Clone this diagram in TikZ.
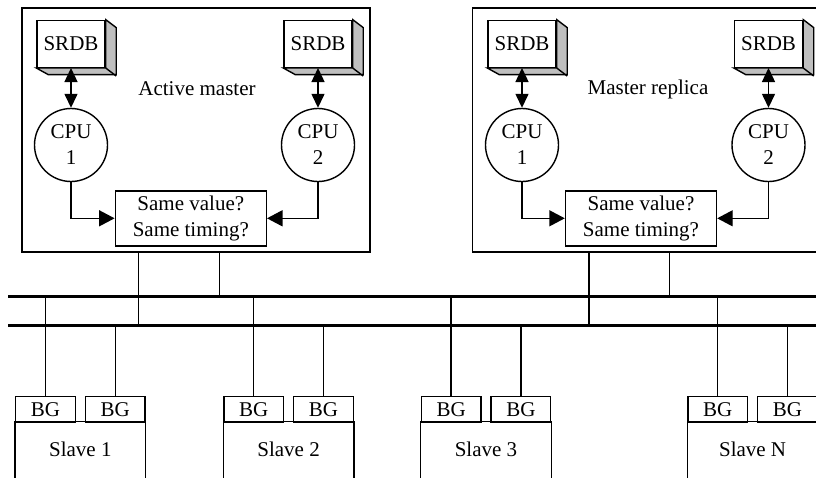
\documentclass[tikz,border=0pt]{standalone}
\usepackage{fontspec}
\setmainfont{Liberation Serif}
\usetikzlibrary{arrows.meta,calc}
\newcommand\srdbext[1]{%
  \filldraw[fill=black!25] (#1.north east) -- ++(10.5,8) -- ++(0,47) -- ++(-68,0) -- (#1.south west) -- (#1.south east) -- cycle;
  \draw (#1.south east) -- ++(10.5,8);
}
\begin{document}
\begin{tikzpicture}[x=1pt,y=-1pt, font=\fontsize{21}{26}\selectfont, line width=1.4pt,
  every node/.style={inner sep=0pt},
  box/.style={draw, rectangle},
  srdbbox/.style={draw, fill=white, minimum width=68pt, minimum height=47pt},
  cpubox/.style={draw, circle, minimum size=73pt, align=center},
  cmpbox/.style={draw, minimum width=151pt, minimum height=55pt, align=center},
  bgbox/.style={draw, minimum width=59.7pt, minimum height=25.3pt},
  slavebox/.style={minimum width=129.3pt, minimum height=55pt},
  tip/.style={-{Triangle[length=15.5pt,width=16pt]}},
  dtip/.style={{Triangle[length=14pt,width=13pt]}-{Triangle[length=14pt,width=13pt]}},
  bus/.style={line width=3pt}]
\clip (0,0) rectangle (816,477);

% master boxes
\node[box, minimum width=348pt, minimum height=244pt] (amaster) at (196,130) {};
\node[box, minimum width=357.3pt, minimum height=244pt] (rmaster) at (651.35,130) {};
\node (alabel) at (197,89) {Active master};
\node (rlabel) at (648,89) {Master replica};

% SRDBs
\node[srdbbox] (as1) at (71,43.8) {SRDB}; \srdbext{as1}
\node[srdbbox] (as2) at (318,43.8) {SRDB}; \srdbext{as2}
\node[srdbbox] (rs1) at (522,43.8) {SRDB}; \srdbext{rs1}
\node[srdbbox] (rs2) at (768.5,43.8) {SRDB}; \srdbext{rs2}

% CPUs
\node[cpubox] (ac1) at (71,145) {CPU\\1};
\node[cpubox] (ac2) at (318,145) {CPU\\2};
\node[cpubox] (rc1) at (522,145) {CPU\\1};
\node[cpubox] (rc2) at (768.5,145) {CPU\\2};

% comparators
\node[cmpbox] (acmp) at (190.8,218.3) {Same value?\\Same timing?};
\node[cmpbox] (rcmp) at (641,218.3) {Same value?\\Same timing?};

% arrows
\draw[dtip] (as1.south) -- (ac1.north);
\draw[dtip] (as2.south) -- (ac2.north);
\draw[dtip] (rs1.south) -- (rc1.north);
\draw[dtip] (rs2.south) -- (rc2.north);
\draw[tip] (ac1.south) |- (acmp.west);
\draw[tip] (ac2.south) |- (acmp.east);
\draw[tip] (rc1.south) |- (rcmp.west);
\draw[tip] (rc2.south) |- (rcmp.east);

% buses
\coordinate (busAL) at (8.3,296); \coordinate (busAR) at (820,296);
\coordinate (busBL) at (8.3,325); \coordinate (busBR) at (820,325);
\draw[bus] (busAL) -- (busAR);
\draw[bus] (busBL) -- (busBR);

% master drops
\coordinate (am1) at (138.3,252); \coordinate (am2) at (219.3,252);
\coordinate (rm1) at (589,252); \coordinate (rm2) at (669.3,252);
\draw (am1) -- (am1 |- busBL);
\draw (am2) -- (am2 |- busAL);
\draw (rm1) -- (rm1 |- busBL);
\draw (rm2) -- (rm2 |- busAL);

% slaves
\foreach \n/\cx/\lab in {1/80.35/Slave 1, 2/288.6/Slave 2, 3/486/Slave 3, 4/752.6/Slave N}{
  \node[slavebox] (sl\n) at (\cx,449.5) {\lab};
  \draw (sl\n.south west) |- (sl\n.north east) -- (sl\n.south east);
  \node[bgbox] (bg\n a) at (\cx-34.85,409.35) {BG};
  \node[bgbox] (bg\n b) at (\cx+34.85,409.35) {BG};
  \draw (bg\n a.north) -- (bg\n a.north |- busAL);
  \draw (bg\n b.north) -- (bg\n b.north |- busBL);
}
\end{tikzpicture}
\end{document}
